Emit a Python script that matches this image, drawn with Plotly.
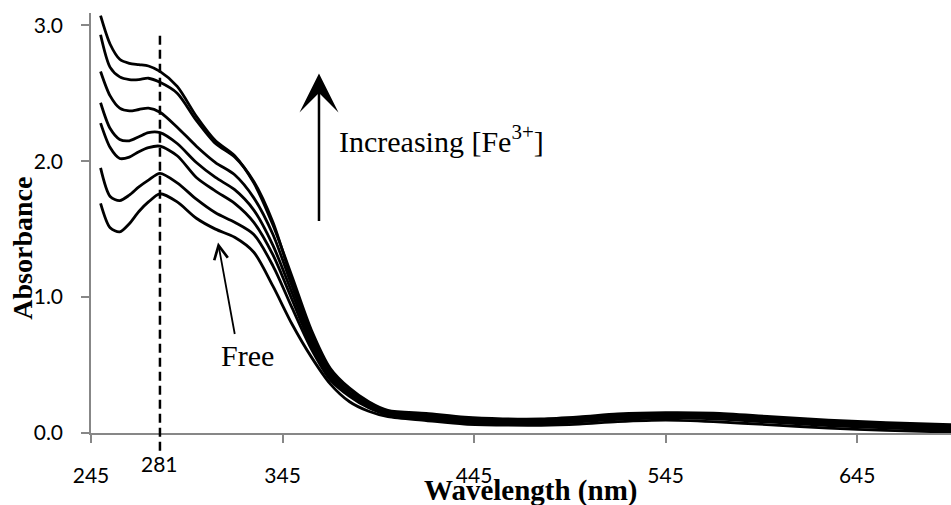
import plotly.graph_objects as go

# Wavelengths (nm) at which each spectrum is sampled
wavelength = [250, 255, 260, 265, 270, 275, 281, 290, 300, 310, 320, 330, 340,
              350, 360, 370, 380, 390, 400, 420, 440, 460, 480, 500, 520, 545,
              570, 600, 630, 660, 694]

# Absorbance spectra, from the highest Fe3+ concentration down to the free ligand
abs_fe6 = [3.07, 2.86, 2.75, 2.72, 2.71, 2.70, 2.66, 2.55, 2.33, 2.15, 2.04, 1.84, 1.53,
           1.15, 0.76, 0.475, 0.33, 0.23, 0.166, 0.144, 0.116, 0.104, 0.103, 0.118, 0.140, 0.150,
           0.146, 0.120, 0.095, 0.077, 0.061]
abs_fe5 = [2.93, 2.69, 2.62, 2.60, 2.60, 2.61, 2.58, 2.50, 2.30, 2.13, 2.03, 1.85, 1.55,
           1.12, 0.74, 0.46, 0.32, 0.22, 0.158, 0.136, 0.110, 0.098, 0.097, 0.112, 0.133, 0.144,
           0.139, 0.113, 0.088, 0.070, 0.054]
abs_fe4 = [2.66, 2.48, 2.39, 2.37, 2.38, 2.39, 2.36, 2.25, 2.11, 1.99, 1.90, 1.73, 1.46,
           1.08, 0.71, 0.44, 0.30, 0.21, 0.152, 0.128, 0.103, 0.092, 0.091, 0.105, 0.125, 0.137,
           0.131, 0.105, 0.080, 0.062, 0.046]
abs_fe3 = [2.43, 2.24, 2.16, 2.15, 2.18, 2.21, 2.21, 2.13, 1.99, 1.88, 1.79, 1.64, 1.38,
           1.03, 0.68, 0.42, 0.29, 0.20, 0.146, 0.121, 0.096, 0.086, 0.085, 0.098, 0.117, 0.129,
           0.123, 0.097, 0.072, 0.054, 0.038]
abs_fe2 = [2.28, 2.10, 2.02, 2.03, 2.07, 2.10, 2.11, 2.04, 1.88, 1.78, 1.69, 1.55, 1.31,
           0.98, 0.65, 0.41, 0.28, 0.19, 0.140, 0.114, 0.089, 0.079, 0.078, 0.090, 0.109, 0.121,
           0.114, 0.089, 0.064, 0.046, 0.029]
abs_fe1 = [1.95, 1.74, 1.71, 1.75, 1.81, 1.86, 1.91, 1.84, 1.72, 1.62, 1.55, 1.46, 1.23,
           0.92, 0.62, 0.39, 0.27, 0.185, 0.134, 0.106, 0.081, 0.071, 0.070, 0.082, 0.100, 0.112,
           0.104, 0.080, 0.055, 0.037, 0.019]
abs_free = [1.69, 1.51, 1.48, 1.54, 1.63, 1.70, 1.76, 1.70, 1.58, 1.50, 1.44, 1.33, 1.08,
            0.80, 0.56, 0.36, 0.23, 0.16, 0.120, 0.092, 0.066, 0.058, 0.057, 0.066, 0.083, 0.094,
            0.083, 0.060, 0.036, 0.020, 0.006]

spectra = [abs_fe6, abs_fe5, abs_fe4, abs_fe3, abs_fe2, abs_fe1, abs_free]

x_ticks = [245, 345, 445, 545, 645]
y_ticks = [0, 1, 2, 3]
peak_nm = 281

fig = go.Figure()
for ys in spectra:
    fig.add_trace(go.Scatter(
        x=wavelength, y=ys, mode="lines",
        line=dict(color="black", width=2.8, shape="spline", smoothing=0.8),
        showlegend=False, hoverinfo="skip"))

axis_grey = "#878787"
tick_font = dict(family="Lato", size=21, color="black")
serif = "Liberation Serif"

fig.update_layout(
    width=951, height=505,
    margin=dict(l=91, r=0, t=13, b=72),
    paper_bgcolor="white", plot_bgcolor="white",
    xaxis=dict(range=[245, 694], tickvals=x_ticks, ticktext=[str(v) for v in x_ticks],
               showline=True, linecolor=axis_grey, linewidth=1.5,
               ticks="outside", ticklen=8, tickwidth=1.5, tickcolor=axis_grey,
               showgrid=False, zeroline=False, tickfont=tick_font,
               ticklabelstandoff=15),
    yaxis=dict(range=[0, 3.09], tickvals=y_ticks, tickformat=".1f",
               showline=True, linecolor=axis_grey, linewidth=1.5,
               ticks="outside", ticklen=8, tickwidth=1.5, tickcolor=axis_grey,
               showgrid=False, zeroline=False, tickfont=tick_font,
               ticklabelstandoff=14),
)

# dashed marker at the absorption maximum
fig.add_shape(type="line", xref="x", yref="paper", x0=peak_nm, x1=peak_nm,
              y0=-0.042, y1=0.951,
              line=dict(color="black", width=2.5, dash="9px,5px"))

fig.add_annotation(xref="x", yref="paper", x=peak_nm, y=-0.073, text=str(peak_nm),
                   showarrow=False, font=tick_font, xanchor="center", yanchor="middle")

# axis titles
fig.add_annotation(xref="paper", yref="paper", x=0.511, y=-0.137,
                   text="<b>Wavelength (nm)</b>", showarrow=False,
                   font=dict(family=serif, size=29, color="black"),
                   xanchor="center", yanchor="middle")
fig.add_annotation(xref="paper", yref="paper", x=-0.079, y=0.439,
                   text="<b>Absorbance</b>", showarrow=False, textangle=-90,
                   font=dict(family=serif, size=28, color="black"),
                   xanchor="center", yanchor="middle")

# titration direction
fig.add_annotation(xref="paper", yref="paper", x=0.2651, y=0.856, ax=0, ay=149,
                   axref="pixel", ayref="pixel", text="", showarrow=True,
                   arrowhead=3, arrowsize=2.6, arrowwidth=2.5, arrowcolor="black")
fig.add_annotation(xref="paper", yref="paper", x=0.286, y=0.699,
                   text="Increasing [Fe<sup>3+</sup>]", showarrow=False,
                   font=dict(family=serif, size=30, color="black"),
                   xanchor="left", yanchor="middle")

# free ligand label
fig.add_annotation(xref="paper", yref="paper", x=0.1477, y=0.4536, ax=17, ay=93,
                   text="", showarrow=True,
                   arrowhead=5, arrowsize=1.5, arrowwidth=1.8, arrowcolor="black")
fig.add_annotation(xref="paper", yref="paper", x=0.1814, y=0.1845, text="Free",
                   showarrow=False, font=dict(family=serif, size=30, color="black"),
                   xanchor="center", yanchor="middle")

fig.write_html("out.html")
